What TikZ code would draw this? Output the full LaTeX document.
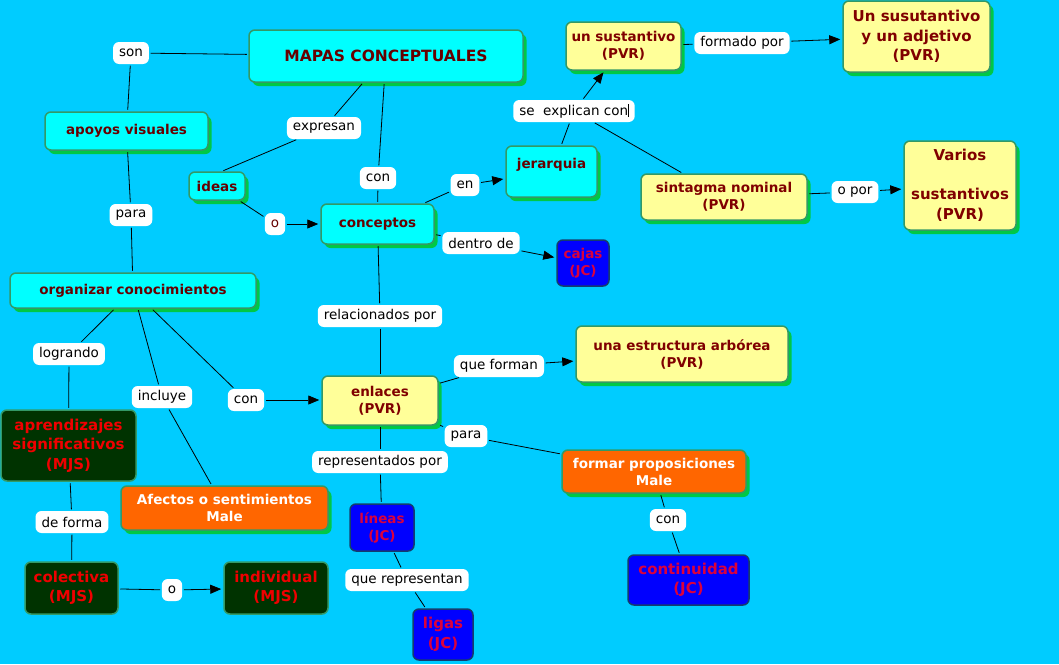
\documentclass[tikz,border=0pt]{standalone}
\usepackage{fontspec}
\setmainfont{DejaVu Sans}
\usetikzlibrary{arrows.meta,shadows}
\definecolor{bg}{RGB}{0,204,255}
\definecolor{cyanc}{RGB}{0,255,255}
\definecolor{yelc}{RGB}{255,255,153}
\definecolor{orc}{RGB}{255,102,0}
\definecolor{dkg}{RGB}{0,51,0}
\definecolor{bluec}{RGB}{0,0,255}
\definecolor{bord}{RGB}{51,153,102}
\definecolor{bordb}{RGB}{20,60,110}
\definecolor{shg}{RGB}{0,200,70}
\definecolor{maroon}{RGB}{102,0,0}
\definecolor{maroonb}{RGB}{128,0,0}
\definecolor{redc}{RGB}{240,0,0}
\definecolor{crim}{RGB}{220,0,60}
\begin{document}
\begin{tikzpicture}[x=1pt,y=-1pt,
  sz/.style 2 args={minimum width=#1pt, minimum height=#2pt},
  cbase/.style={draw=bord, line width=1.5pt, rounded corners=6pt, inner sep=0pt, align=center},
  shad/.style={drop shadow={shadow xshift=3.5pt, shadow yshift=-4pt, fill=shg, opacity=1}},
  fnorm/.style={font=\bfseries\fontsize{13.5}{17}\selectfont},
  fbig/.style={font=\bfseries\fontsize{15}{19.5}\selectfont},
  cy/.style={cbase, shad, fill=cyanc, text=maroon, fnorm},
  ye/.style={cbase, shad, fill=yelc, text=maroonb, fnorm},
  orn/.style={cbase, shad, fill=orc, text=white, fnorm},
  dg/.style={cbase, fill=dkg, text=redc, fbig},
  bl/.style={cbase, draw=bordb, fill=bluec, text=crim, fnorm},
  lab/.style={fill=white, rounded corners=6pt, inner xsep=6pt, inner ysep=0pt, minimum height=22pt, text=black, font=\fontsize{13.5}{16}\selectfont},
  ln/.style={draw=black, line width=0.8pt, shorten <=1.5pt, shorten >=1.5pt},
  ar/.style={ln, -{Triangle[length=11pt,width=9pt]}, shorten >=2pt}
]
\useasboundingbox (0,0) rectangle (1059,664);
\fill[bg] (0,0) rectangle (1059,664);

% concepts
\node[cy, sz={274}{52}, font=\bfseries\fontsize{15.5}{19}\selectfont] (mapas) at (386,56) {MAPAS CONCEPTUALES};
\node[cy, sz={163}{38}] (apoyos) at (126.5,131) {apoyos visuales};
\node[cy, sz={246}{35}] (organizar) at (133,290.5) {organizar conocimientos};
\node[cy, sz={56}{28}] (ideas) at (217,186) {ideas};
\node[cy, sz={113}{40}] (conceptos) at (377.5,224) {conceptos};
\node[cy, sz={91}{51}] (jerarquia) at (551.5,171.5) {jerarquia\\\mbox{}};
\node[ye, sz={115}{48}] (unsust) at (623.5,46) {un sustantivo\\(PVR)};
\node[ye, sz={147}{71}, fbig] (unsusadj) at (916.5,36.5) {Un susutantivo\\y un adjetivo\\(PVR)};
\node[ye, sz={166}{46}] (sintagma) at (724,197) {sintagma nominal\\(PVR)};
\node[ye, sz={112}{89}, fbig] (varios) at (960,185.5) {Varios\\\mbox{}\\sustantivos\\(PVR)};
\node[bl, sz={52}{46}] (cajas) at (583,263) {cajas\\(JC)};
\node[ye, sz={116}{49}] (enlaces) at (380,400.5) {enlaces\\(PVR)};
\node[ye, sz={212}{56}] (estructura) at (682,354) {una estructura arbórea\\(PVR)};
\node[orn, sz={184}{43}] (formar) at (654,471.5) {formar proposiciones\\Male};
\node[bl, sz={121}{50}, fbig] (continuidad) at (688.5,580) {continuidad\\(JC)};
\node[bl, sz={64}{47}] (lineas) at (382,527.5) {líneas\\(JC)};
\node[bl, sz={60}{51}, fbig] (ligas) at (443,634.5) {ligas\\(JC)};
\node[dg, sz={135}{71}] (aprend) at (68.5,445.5) {aprendizajes\\significativos\\(MJS)};
\node[orn, sz={207}{44}] (afectos) at (224.5,508) {Afectos o sentimientos\\Male};
\node[dg, sz={93}{52}] (colectiva) at (71.5,588) {colectiva\\(MJS)};
\node[dg, sz={104}{52}] (individual) at (276,588) {individual\\(MJS)};

% linking phrases
\node[lab] (son) at (131,53) {son};
\node[lab] (expresan) at (324,128) {expresan};
\node[lab] (con1) at (378,178) {con};
\node[lab, text=maroon] (o1) at (275,224) {o};
\node[lab] (en) at (465,185) {en};
\node[lab] (sexp) at (574,111) {se\ \ explican con\rule[-2pt]{0.6pt}{13pt}};
\node[lab] (formado) at (742,43) {formado por};
\node[lab] (opor) at (855,192) {o por};
\node[lab] (dentro) at (481,243) {dentro de};
\node[lab] (para1) at (131,215) {para};
\node[lab] (relac) at (380,316) {relacionados por};
\node[lab] (con2) at (246,400) {con};
\node[lab] (queforman) at (499,366) {que forman};
\node[lab] (para2) at (466,436) {para};
\node[lab] (con3) at (668,520) {con};
\node[lab] (repr) at (380,462) {representados por};
\node[lab] (querep) at (407,580) {que representan};
\node[lab] (logrando) at (69,354) {logrando};
\node[lab] (incluye) at (162,397) {incluye};
\node[lab] (deforma) at (72,522) {de forma};
\node[lab] (o2) at (172,590) {o};

% connectors
\draw[ln] (mapas) -- (son);
\draw[ln] (son) -- (apoyos);
\draw[ln] (apoyos) -- (para1);
\draw[ln] (para1) -- (organizar);
\draw[ln] (mapas) -- (expresan);
\draw[ln] ([xshift=5pt]ideas.north) -- (expresan);
\draw[ln] (mapas) -- (con1);
\draw[ln] (con1) -- (conceptos);
\draw[ln] (ideas) -- (o1);
\draw[ar] (o1) -- (conceptos.west |- o1);
\draw[ln] (conceptos) -- (en);
\draw[ar] (en) -- (jerarquia);
\draw[ln] (jerarquia) -- (sexp);
\draw[ar] (sexp) -- (unsust);
\draw[ln] (sexp) -- (sintagma);
\draw[ln] (unsust) -- (formado);
\draw[ar] (formado) -- (unsusadj);
\draw[ln] (sintagma) -- (opor);
\draw[ar] (opor) -- (varios);
\draw[ln] (conceptos) -- (dentro);
\draw[ar] (dentro) -- (cajas);
\draw[ln] (conceptos) -- (relac);
\draw[ln] (relac) -- (enlaces);
\draw[ln] (organizar) -- (con2);
\draw[ar] (con2) -- (enlaces.west |- con2);
\draw[ln] (enlaces) -- (queforman);
\draw[ar] (queforman) -- (estructura);
\draw[ln] (enlaces) -- (para2);
\draw[ln] (para2) -- (formar);
\draw[ln] (formar) -- (con3);
\draw[ln] (con3) -- (continuidad);
\draw[ln] (enlaces) -- (repr);
\draw[ln] (repr) -- (lineas);
\draw[ln] (lineas) -- (querep);
\draw[ln] (querep) -- (ligas);
\draw[ln] (organizar) -- (logrando);
\draw[ln] (logrando) -- (aprend);
\draw[ln] (organizar) -- (incluye);
\draw[ln] (incluye) -- (afectos);
\draw[ln] (aprend) -- (deforma);
\draw[ln] (deforma) -- (colectiva);
\draw[ln] (colectiva) -- (o2);
\draw[ar] (o2) -- (individual);
\end{tikzpicture}
\end{document}
